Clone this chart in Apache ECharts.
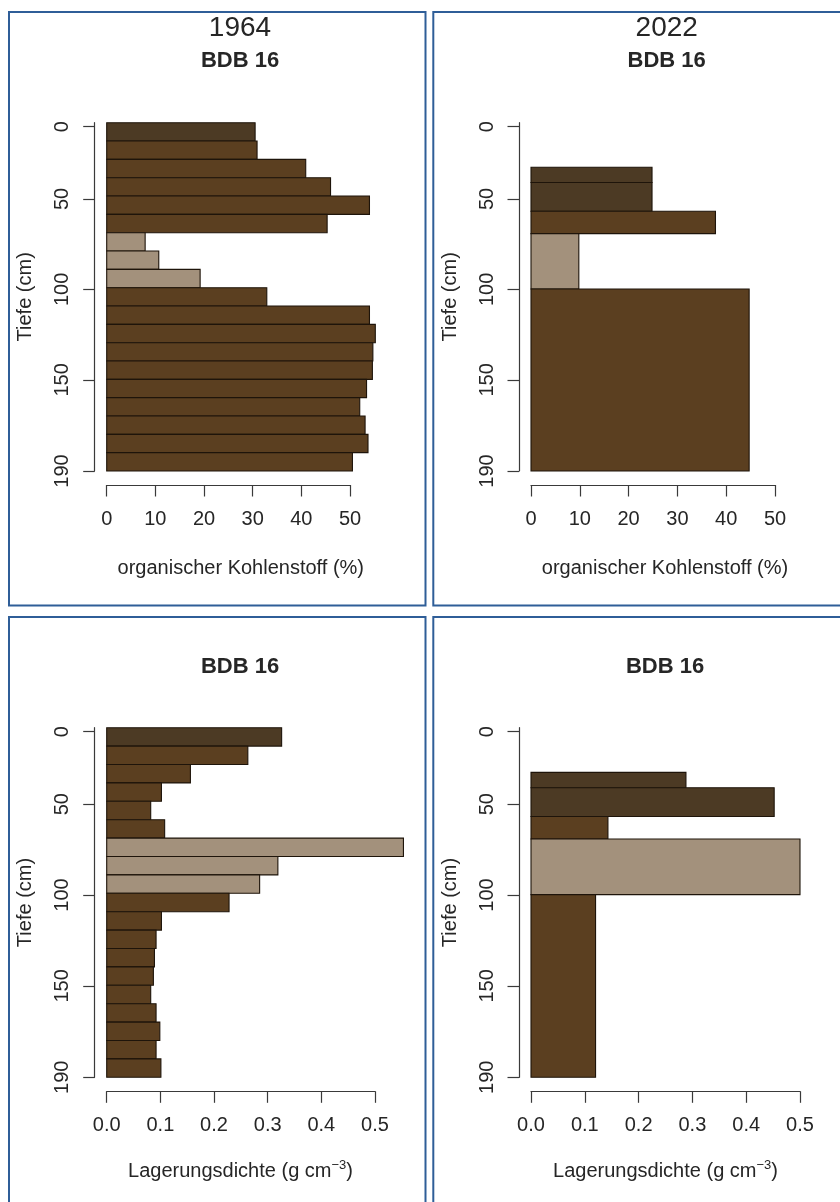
<!DOCTYPE html>
<html>
<head>
<meta charset="utf-8">
<script src="https://cdn.jsdelivr.net/npm/echarts@6/dist/echarts.min.js"></script>
<style>
html,body{margin:0;padding:0;background:#fff;}
#chart{width:840px;height:1202px;}
</style>
</head>
<body>
<div id="chart"></div>
<script>
// ---- data ----
const yearLabels = ['1964', '2022'];
const siteTitle = 'BDB 16';
// depth axis in barplot units (0 = top of profile, 19 = 190 cm)
const depthTickPos = [0.22, 4.16, 9.09, 14.03, 19];
const depthTickLabels = ['0', '50', '100', '150', '190'];
const depthMax = 19;
// layer boundaries (barplot units)
const layerBounds1964 = [0, 1, 2, 3, 4, 5, 6, 7, 8, 9, 10, 11, 12, 13, 14, 15, 16, 17, 18, 19];
const layerBounds2022 = [2.43, 3.26, 4.83, 6.05, 9.07, 19];
// horizon class per layer: D = dark, B = brown, L = light (mineral)
const horizon1964 = ['D', 'B', 'B', 'B', 'B', 'B', 'L', 'L', 'L', 'B', 'B', 'B', 'B', 'B', 'B', 'B', 'B', 'B', 'B'];
const horizon2022 = ['D', 'D', 'B', 'L', 'B'];
// organic carbon (%)
const corg1964 = [30.5, 30.9, 40.9, 46.0, 54.0, 45.3, 7.9, 10.7, 19.2, 32.9, 54.0, 55.2, 54.7, 54.6, 53.4, 52.0, 53.1, 53.7, 50.5];
const corg2022 = [24.8, 24.8, 37.8, 9.8, 44.7];
// bulk density (g cm-3)
const bd1964 = [0.326, 0.263, 0.156, 0.102, 0.082, 0.108, 0.553, 0.319, 0.285, 0.228, 0.102, 0.092, 0.089, 0.087, 0.082, 0.092, 0.099, 0.092, 0.101];
const bd2022 = [0.288, 0.452, 0.143, 0.50, 0.120];
const corgTicks = [0, 10, 20, 30, 40, 50];
const bdTicks = [0, 0.1, 0.2, 0.3, 0.4, 0.5];
const xTitleCorg = 'organischer Kohlenstoff (%)';
const yTitle = 'Tiefe (cm)';

// ---- styling ----
const colorMap = {D: '#4c3a24', B: '#5b3f20', L: '#a3917c'};
const textColor = '#262626';
const axisColor = '#3a3a3a';
const FONT = '"Liberation Sans", Arial, sans-serif';

function buildData(bounds, values) {
  return values.map((v, i) => [bounds[i], bounds[i + 1], v]);
}
function makeRender(horizon) {
  return function (params, api) {
    const top = api.value(0), bottom = api.value(1), val = api.value(2);
    const p0 = api.coord([0, top]);
    const p1 = api.coord([val, bottom]);
    return {
      type: 'rect',
      shape: {x: p0[0], y: p0[1], width: p1[0] - p0[0], height: p1[1] - p0[1]},
      style: {fill: colorMap[horizon[params.dataIndex]], stroke: '#1e140a', lineWidth: 1.1}
    };
  };
}

const panels = [
  {grid: {left: 106.7, top: 122.7, width: 243.3, height: 348.3}, vals: corg1964, bounds: layerBounds1964, hz: horizon1964, ticks: corgTicks, dec: 0},
  {grid: {left: 531, top: 122.7, width: 244, height: 348.3}, vals: corg2022, bounds: layerBounds2022, hz: horizon2022, ticks: corgTicks, dec: 0},
  {grid: {left: 106.7, top: 727.7, width: 268.3, height: 349.6}, vals: bd1964, bounds: layerBounds1964, hz: horizon1964, ticks: bdTicks, dec: 1},
  {grid: {left: 531, top: 727.7, width: 269, height: 349.6}, vals: bd2022, bounds: layerBounds2022, hz: horizon2022, ticks: bdTicks, dec: 1}
];

const grids = [], xAxes = [], yAxes = [], series = [];
panels.forEach((p, i) => {
  grids.push(Object.assign({containLabel: false}, p.grid));
  xAxes.push({
    type: 'value', gridIndex: i, min: p.ticks[0], max: p.ticks[p.ticks.length - 1],
    interval: p.ticks[1] - p.ticks[0], position: 'bottom', offset: 14,
    splitLine: {show: false},
    axisLine: {show: true, onZero: false, lineStyle: {color: axisColor, width: 1.2}},
    axisTick: {show: true, length: 11.5, inside: false, lineStyle: {color: axisColor, width: 1.2}},
    axisLabel: {show: true, margin: 24, color: textColor, fontSize: 20, fontFamily: FONT,
      formatter: v => v.toFixed(p.dec)}
  });
  yAxes.push({
    type: 'value', gridIndex: i, min: 0, max: depthMax, inverse: true, position: 'left', offset: 12,
    splitLine: {show: false},
    axisLine: {show: true, onZero: false, lineStyle: {color: axisColor, width: 1.2}},
    axisTick: {show: true, length: 11.5, customValues: depthTickPos, lineStyle: {color: axisColor, width: 1.2}},
    axisLabel: {show: true, rotate: 90, margin: 22, color: textColor, fontSize: 20, fontFamily: FONT,
      customValues: depthTickPos,
      formatter: v => depthTickLabels[depthTickPos.indexOf(v)]}
  });
  series.push({
    type: 'custom', xAxisIndex: i, yAxisIndex: i, clip: false,
    renderItem: makeRender(p.hz),
    encode: {x: 2, y: [0, 1]},
    data: buildData(p.bounds, p.vals)
  });
});

const txt = (x, y, text, size, weight, rot) => ({
  type: 'text', x: x, y: y, rotation: rot || 0,
  style: {text: text, fill: textColor, font: (weight || 'normal') + ' ' + size + 'px ' + FONT,
    textAlign: 'center', textVerticalAlign: 'middle'}
});
const bdTitle = (x, y) => ({
  type: 'text', x: x, y: y,
  style: {
    text: '{a|Lagerungsdichte (g cm}{s|−3}{a|)}',
    textAlign: 'center', textVerticalAlign: 'middle',
    rich: {
      a: {fontSize: 20, fontFamily: FONT, fill: textColor, color: textColor},
      s: {fontSize: 13, fontFamily: FONT, fill: textColor, color: textColor, padding: [0, 0, 12, 0]}
    }
  }
});
const border = (x, y, w, h) => ({
  type: 'rect', shape: {x: x, y: y, width: w, height: h},
  style: {fill: 'none', stroke: '#2f5e98', lineWidth: 2}, z: 10
});

const graphics = [
  border(9, 12, 416.5, 593.5),
  border(433.3, 12, 420, 593.5),
  border(9, 617, 416.5, 600),
  border(433.3, 617, 420, 600),
  txt(240, 28, yearLabels[0], 28),
  txt(666.7, 28, yearLabels[1], 28),
  txt(240, 61, siteTitle, 22, 'bold'),
  txt(666.7, 61, siteTitle, 22, 'bold'),
  txt(240, 667, siteTitle, 22, 'bold'),
  txt(665, 667, siteTitle, 22, 'bold'),
  txt(240.8, 568, xTitleCorg, 20),
  txt(665, 568, xTitleCorg, 20),
  bdTitle(240.5, 1171),
  bdTitle(665.5, 1171),
  txt(25, 296.8, yTitle, 20, 'normal', Math.PI / 2),
  txt(450, 296.8, yTitle, 20, 'normal', Math.PI / 2),
  txt(25, 902.5, yTitle, 20, 'normal', Math.PI / 2),
  txt(450, 902.5, yTitle, 20, 'normal', Math.PI / 2)
];

const chart = echarts.init(document.getElementById('chart'), null, {renderer: 'canvas'});
chart.setOption({
  animation: false,
  backgroundColor: '#ffffff',
  grid: grids,
  xAxis: xAxes,
  yAxis: yAxes,
  series: series,
  graphic: graphics
});
</script>
</body>
</html>
